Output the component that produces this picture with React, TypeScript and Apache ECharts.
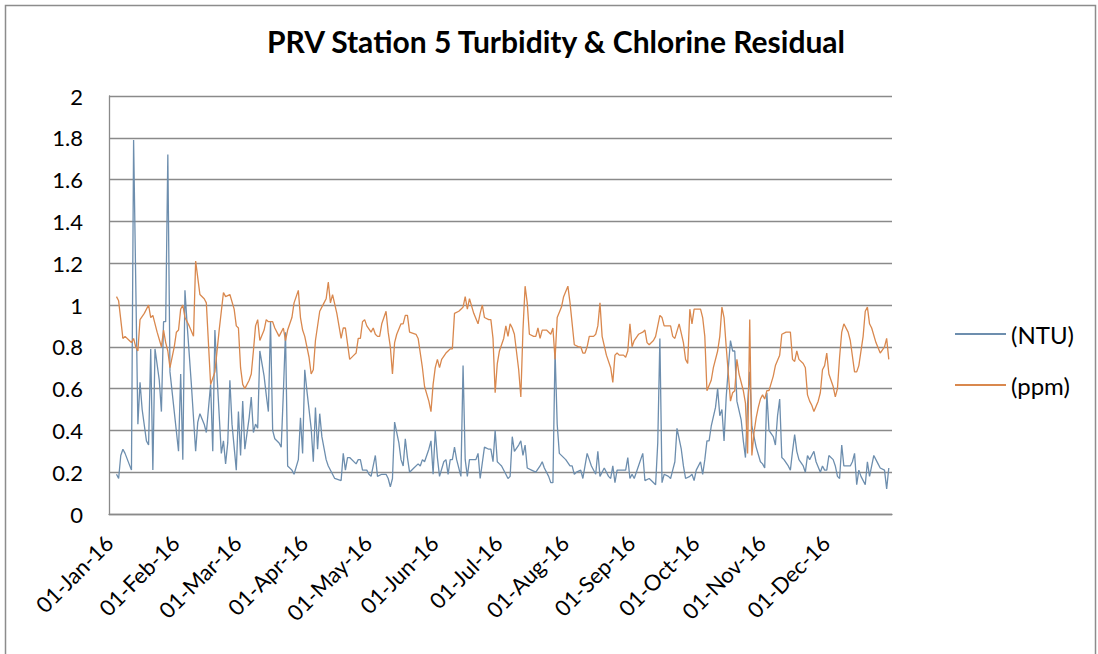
import React, { useEffect, useRef } from "react";
import * as echarts from "echarts";

const titleText = "PRV Station 5 Turbidity & Chlorine Residual";
const monthLabels = ["01-Jan-16", "01-Feb-16", "01-Mar-16", "01-Apr-16", "01-May-16", "01-Jun-16", "01-Jul-16", "01-Aug-16", "01-Sep-16", "01-Oct-16", "01-Nov-16", "01-Dec-16"];
// day offsets (days since 01-Jan-16) of each month start
const monthStartDays = [0, 31, 60, 91, 121, 152, 182, 213, 244, 274, 305, 335];

const ntuDays = [3, 4, 5, 6, 7, 10, 11, 13, 14, 15, 17, 18, 19, 20, 21, 23, 24, 25, 26, 27, 28, 32, 33, 34, 35, 36, 38, 40, 41, 42, 44, 45, 47, 48, 49, 50, 52, 53, 54, 55, 56, 57, 59, 60, 61, 62, 63, 65, 66, 67, 68, 69, 70, 72, 73, 74, 75, 76, 77, 79, 80, 81, 82, 83, 85, 86, 88, 89, 90, 91, 92, 94, 95, 96, 97, 98, 99, 101, 102, 104, 105, 108, 109, 110, 111, 112, 115, 116, 117, 118, 120, 121, 122, 124, 125, 127, 129, 130, 131, 132, 133, 135, 136, 137, 138, 139, 140, 142, 144, 145, 146, 147, 149, 150, 151, 152, 153, 154, 156, 157, 158, 159, 160, 161, 162, 164, 165, 166, 167, 168, 170, 171, 172, 173, 175, 177, 178, 179, 180, 181, 182, 183, 185, 186, 187, 188, 189, 191, 192, 193, 194, 195, 197, 199, 201, 202, 203, 205, 206, 207, 208, 209, 210, 213, 215, 216, 217, 218, 220, 221, 223, 225, 227, 228, 229, 231, 233, 234, 235, 236, 237, 238, 240, 241, 242, 243, 244, 245, 247, 249, 250, 252, 253, 255, 256, 257, 258, 259, 261, 262, 263, 264, 265, 267, 268, 269, 271, 272, 273, 274, 276, 277, 278, 279, 280, 281, 283, 284, 285, 286, 287, 288, 289, 290, 291, 292, 293, 295, 296, 297, 298, 299, 300, 301, 302, 304, 305, 306, 307, 308, 310, 311, 312, 313, 314, 315, 317, 318, 319, 320, 321, 322, 324, 325, 326, 327, 329, 330, 332, 333, 334, 335, 336, 338, 339, 340, 341, 342, 343, 345, 346, 347, 348, 349, 350, 351, 353, 354, 355, 357, 359, 360, 362, 363, 364];
const ntuValues = [0.19, 0.17, 0.28, 0.31, 0.29, 0.21, 1.79, 0.43, 0.63, 0.5, 0.35, 0.33, 0.79, 0.21, 0.79, 0.64, 0.49, 0.92, 0.92, 1.72, 0.68, 0.3, 0.67, 0.26, 1.07, 0.91, 0.62, 0.3, 0.44, 0.48, 0.43, 0.39, 0.62, 0.3, 0.88, 0.66, 0.29, 0.35, 0.24, 0.34, 0.64, 0.43, 0.21, 0.49, 0.28, 0.54, 0.31, 0.46, 0.56, 0.39, 0.43, 0.41, 0.78, 0.66, 0.57, 0.49, 0.92, 0.4, 0.36, 0.34, 0.32, 0.58, 0.87, 0.23, 0.21, 0.19, 0.26, 0.46, 0.29, 0.69, 0.59, 0.41, 0.25, 0.51, 0.31, 0.48, 0.37, 0.26, 0.23, 0.19, 0.17, 0.16, 0.29, 0.21, 0.27, 0.27, 0.24, 0.26, 0.26, 0.21, 0.21, 0.19, 0.18, 0.28, 0.18, 0.19, 0.19, 0.17, 0.13, 0.17, 0.44, 0.34, 0.26, 0.23, 0.36, 0.27, 0.2, 0.22, 0.24, 0.23, 0.26, 0.25, 0.31, 0.35, 0.19, 0.4, 0.27, 0.18, 0.25, 0.26, 0.19, 0.26, 0.26, 0.32, 0.26, 0.18, 0.71, 0.26, 0.18, 0.26, 0.26, 0.26, 0.29, 0.17, 0.32, 0.31, 0.31, 0.25, 0.4, 0.25, 0.24, 0.23, 0.19, 0.17, 0.18, 0.37, 0.3, 0.33, 0.35, 0.28, 0.33, 0.22, 0.21, 0.2, 0.23, 0.25, 0.22, 0.18, 0.15, 0.15, 0.78, 0.43, 0.29, 0.26, 0.23, 0.23, 0.19, 0.2, 0.21, 0.17, 0.29, 0.23, 0.19, 0.3, 0.18, 0.22, 0.18, 0.17, 0.23, 0.15, 0.21, 0.21, 0.21, 0.21, 0.27, 0.17, 0.19, 0.17, 0.23, 0.29, 0.16, 0.17, 0.16, 0.14, 0.34, 0.84, 0.15, 0.19, 0.18, 0.17, 0.21, 0.25, 0.41, 0.31, 0.23, 0.17, 0.18, 0.19, 0.16, 0.21, 0.25, 0.19, 0.26, 0.35, 0.35, 0.42, 0.51, 0.6, 0.47, 0.5, 0.35, 0.56, 0.7, 0.83, 0.78, 0.78, 0.54, 0.45, 0.35, 0.27, 0.53, 0.68, 0.42, 0.37, 0.32, 0.25, 0.24, 0.22, 0.58, 0.4, 0.37, 0.33, 0.47, 0.55, 0.27, 0.26, 0.23, 0.21, 0.3, 0.38, 0.3, 0.26, 0.23, 0.2, 0.28, 0.26, 0.3, 0.25, 0.2, 0.23, 0.21, 0.21, 0.28, 0.26, 0.23, 0.18, 0.17, 0.33, 0.23, 0.23, 0.23, 0.25, 0.29, 0.14, 0.21, 0.18, 0.14, 0.25, 0.18, 0.28, 0.24, 0.22, 0.21, 0.12, 0.22];

const ppmDays = [3, 4, 6, 7, 9, 10, 11, 12, 13, 14, 16, 18, 19, 20, 22, 24, 25, 26, 27, 28, 30, 31, 32, 33, 34, 35, 37, 39, 40, 42, 44, 45, 47, 49, 51, 53, 54, 56, 58, 59, 60, 61, 62, 63, 65, 66, 67, 68, 69, 70, 72, 73, 74, 76, 77, 79, 81, 82, 83, 85, 86, 88, 89, 90, 91, 93, 94, 95, 96, 98, 100, 101, 102, 103, 104, 106, 108, 109, 110, 112, 114, 115, 116, 117, 118, 119, 120, 122, 123, 124, 125, 126, 127, 129, 130, 131, 132, 133, 134, 136, 137, 138, 139, 140, 143, 144, 146, 147, 149, 150, 151, 152, 153, 154, 155, 157, 158, 159, 160, 161, 163, 164, 165, 166, 167, 168, 170, 172, 173, 174, 175, 177, 178, 179, 180, 181, 182, 184, 185, 186, 187, 188, 189, 191, 192, 193, 194, 195, 196, 198, 199, 200, 201, 202, 204, 206, 207, 208, 209, 211, 212, 214, 215, 217, 219, 220, 221, 222, 223, 224, 226, 227, 228, 229, 230, 232, 234, 235, 236, 237, 238, 240, 241, 242, 243, 244, 245, 247, 249, 250, 251, 252, 254, 255, 257, 258, 259, 261, 262, 263, 264, 266, 268, 269, 270, 271, 272, 273, 274, 276, 277, 278, 279, 281, 282, 284, 285, 286, 287, 288, 289, 290, 291, 292, 293, 294, 296, 297, 298, 299, 300, 301, 302, 303, 304, 305, 306, 307, 308, 310, 311, 313, 314, 316, 318, 319, 320, 321, 322, 324, 325, 326, 327, 328, 329, 331, 332, 333, 334, 335, 336, 338, 339, 340, 341, 342, 343, 345, 346, 348, 349, 350, 352, 353, 354, 355, 356, 358, 360, 362, 363, 364];
const ppmValues = [1.04, 1.02, 0.84, 0.85, 0.83, 0.82, 0.84, 0.8, 0.78, 0.93, 0.96, 1.0, 0.94, 0.95, 0.87, 0.8, 0.88, 0.82, 0.78, 0.7, 0.8, 0.87, 0.88, 0.98, 1.0, 0.94, 0.9, 0.85, 1.21, 1.05, 1.03, 1.01, 0.62, 0.68, 0.88, 1.06, 1.04, 1.05, 0.98, 0.9, 0.89, 0.7, 0.62, 0.6, 0.64, 0.67, 0.78, 0.9, 0.93, 0.83, 0.88, 0.93, 0.92, 0.92, 0.89, 0.85, 0.89, 0.83, 0.88, 0.94, 1.01, 1.07, 0.94, 0.88, 0.85, 0.75, 0.67, 0.69, 0.83, 0.97, 1.01, 1.03, 1.11, 1.01, 1.05, 0.96, 0.84, 0.89, 0.89, 0.74, 0.76, 0.77, 0.84, 0.84, 0.92, 0.93, 0.9, 0.87, 0.89, 0.86, 0.85, 0.85, 0.91, 0.97, 0.87, 0.8, 0.67, 0.82, 0.86, 0.91, 0.91, 0.95, 0.95, 0.87, 0.86, 0.84, 0.7, 0.61, 0.54, 0.49, 0.62, 0.7, 0.74, 0.7, 0.74, 0.77, 0.78, 0.79, 0.79, 0.96, 0.97, 0.98, 0.99, 1.04, 0.98, 1.03, 0.96, 0.91, 0.96, 1.0, 0.94, 0.93, 0.93, 0.84, 0.58, 0.72, 0.78, 0.84, 0.9, 0.85, 0.91, 0.89, 0.86, 0.69, 0.56, 0.88, 1.09, 1.01, 0.86, 0.85, 0.85, 0.89, 0.84, 0.88, 0.88, 0.86, 0.89, 0.74, 0.94, 0.99, 1.04, 1.09, 1.01, 0.81, 0.8, 0.8, 0.77, 0.77, 0.8, 0.85, 0.85, 0.86, 0.9, 1.01, 0.85, 0.76, 0.7, 0.63, 0.76, 0.77, 0.76, 0.76, 0.75, 0.78, 0.91, 0.8, 0.83, 0.86, 0.87, 0.88, 0.82, 0.81, 0.83, 0.85, 0.95, 0.94, 0.9, 0.9, 0.9, 0.85, 0.84, 0.91, 0.82, 0.74, 0.72, 0.98, 0.91, 0.98, 0.98, 0.98, 0.94, 0.85, 0.59, 0.64, 0.7, 0.78, 0.85, 0.99, 0.94, 0.8, 0.67, 0.54, 0.58, 0.59, 0.74, 0.67, 0.59, 0.53, 0.29, 0.93, 0.28, 0.39, 0.46, 0.51, 0.55, 0.57, 0.55, 0.59, 0.59, 0.66, 0.71, 0.76, 0.86, 0.87, 0.87, 0.74, 0.73, 0.78, 0.74, 0.72, 0.7, 0.57, 0.54, 0.52, 0.49, 0.54, 0.58, 0.69, 0.71, 0.77, 0.67, 0.61, 0.56, 0.6, 0.75, 0.87, 0.91, 0.87, 0.83, 0.68, 0.68, 0.71, 0.85, 0.97, 0.99, 0.91, 0.89, 0.82, 0.77, 0.8, 0.84, 0.74];

const seriesNames = ["(NTU)", "(ppm)"];
const seriesColors = ["#6d8eae", "#d9884e"];

export default function App() {
  const ref = useRef<HTMLDivElement>(null);
  useEffect(() => {
    if (!ref.current) return;
    const chart = echarts.init(ref.current, null, { renderer: "svg" });
    const font = "Lato, 'Open Sans', sans-serif";
    // each day is drawn at the centre of its one-day slot on the date axis
    const ntuData = ntuDays.map((d, i) => [d + 0.5, ntuValues[i]]);
    const ppmData = ppmDays.map((d, i) => [d + 0.5, ppmValues[i]]);
    const gridColor = "#8a8a8a";
    chart.setOption({
      animation: false,
      backgroundColor: "#ffffff",
      textStyle: { fontFamily: font },
      title: {
        text: titleText,
        left: 551,
        top: 21,
        textAlign: "center",
        textStyle: { fontSize: 30, fontWeight: "bold", color: "#000", fontFamily: font },
      },
      grid: { left: 109, right: 206, top: 96, bottom: 140, containLabel: false },
      legend: {
        orient: "vertical",
        left: 955,
        top: 322,
        padding: 0,
        itemWidth: 51,
        itemHeight: 2,
        itemGap: 27,
        icon: "rect",
        data: seriesNames,
        textStyle: { fontSize: 24, color: "#000", fontFamily: font },
      },
      graphic: [
        {
          type: "rect",
          silent: true,
          shape: { x: 5.5, y: 5.5, width: 1090, height: 700 },
          style: { fill: "none", stroke: "#8c8c8c", lineWidth: 1.5 },
        },
      ],
      xAxis: {
        type: "value",
        min: 0,
        max: 366,
        axisLine: { show: true, onZero: false, lineStyle: { color: gridColor, width: 1.3 } },
        axisTick: { show: false },
        splitLine: { show: false },
        axisLabel: {
          customValues: monthStartDays,
          formatter: (v: number) => {
            const i = monthStartDays.indexOf(Math.round(v));
            return i >= 0 ? monthLabels[i] : "";
          },
          rotate: 45,
          margin: 25,
          fontSize: 22,
          color: "#000",
          fontFamily: font,
        },
      },
      yAxis: {
        type: "value",
        min: 0,
        max: 2,
        interval: 0.2,
        axisLine: { show: true, lineStyle: { color: gridColor, width: 1.3 } },
        axisTick: { show: false },
        splitLine: { show: true, lineStyle: { color: gridColor, width: 1.3 } },
        axisLabel: { fontSize: 22, margin: 26, color: "#000", fontFamily: font },
      },
      series: [
        {
          name: seriesNames[0],
          type: "line",
          data: ntuData,
          symbol: "none",
          showSymbol: false,
          color: seriesColors[0],
          lineStyle: { color: seriesColors[0], width: 1.3 },
        },
        {
          name: seriesNames[1],
          type: "line",
          data: ppmData,
          symbol: "none",
          showSymbol: false,
          color: seriesColors[1],
          lineStyle: { color: seriesColors[1], width: 1.3 },
        },
      ],
    });
    return () => chart.dispose();
  }, []);
  return <div ref={ref} style={{ position: "fixed", left: 0, top: 0, width: 1098, height: 654 }} />;
}
